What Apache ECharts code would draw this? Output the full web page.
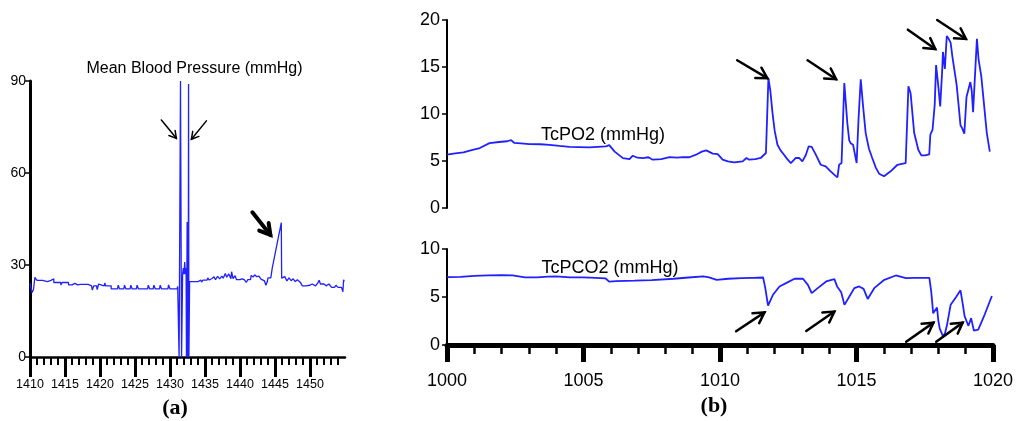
<!DOCTYPE html>
<html><head><meta charset="utf-8">
<script src="https://cdn.jsdelivr.net/npm/echarts@6/dist/echarts.min.js"></script>
<style>html,body{margin:0;padding:0;background:#fff}#c{width:1016px;height:421px}</style>
</head><body><div id="c"></div>
<script>
// ---------- DATA ----------
const mbpTitle = 'Mean Blood Pressure (mmHg)';
const po2Title = 'TcPO2 (mmHg)';
const pco2Title = 'TcPCO2 (mmHg)';
const panelLabels = ['(a)', '(b)'];
const mbpTicks = [1410, 1415, 1420, 1425, 1430, 1435, 1440, 1445, 1450];
const mbpYTicks = [0, 30, 60, 90];
const tcTicks = [1000, 1005, 1010, 1015, 1020];

const mbpTime = [1410.0,1410.2,1410.3,1410.5,1410.7,1410.9,1411.0,1411.8,1411.8,1412.5,1412.5,1413.0,1413.0,1413.4,1413.4,1414.4,1414.4,1414.6,1414.6,1415.5,1415.5,1415.7,1416.0,1416.4,1416.8,1417.2,1418.3,1418.3,1418.8,1418.9,1419.1,1419.5,1419.6,1419.8,1420.0,1420.6,1420.7,1420.8,1421.6,1421.6,1422.5,1422.6,1422.8,1423.4,1423.5,1423.7,1424.3,1424.4,1424.6,1425.2,1425.3,1425.5,1426.8,1426.9,1427.1,1427.6,1427.7,1427.9,1428.5,1428.6,1428.8,1429.7,1429.8,1430.0,1431.0,1431.1,1431.2,
 1431.3,1431.45,1431.5,1431.6,1431.65,1431.75,1431.8,1431.9,1432.0,1432.1,1432.2,1432.3,1432.35,1432.45,1432.5,1432.55,1432.6,1432.65,1432.7,1432.75,1432.8,
 1433.2,1433.3,1433.5,1434.0,1434.0,1434.4,1434.5,1434.7,1435.3,1435.4,1435.6,1436.0,1436.3,1436.5,1436.8,1437.1,1437.4,1437.6,1437.9,1438.1,1438.4,1438.7,1438.8,1439.0,1439.3,1439.5,1440.0,1440.3,1440.6,1440.9,1441.1,1441.5,1441.6,1441.9,1442.1,1442.4,1442.7,1443.0,1443.2,1443.5,1443.7,1443.9,1444.0,1444.4,1444.5,1444.6,1445.9,1445.95,1446.2,1446.4,1446.7,1447.0,1447.3,1447.6,1447.9,1448.2,1448.6,1448.9,1449.4,1449.5,1450.0,1450.3,1450.8,1451.1,1451.3,1451.5,1452.0,1452.3,1452.7,1453.1,1453.5,1453.7,1454.0,1454.5,1454.7,1454.8,1454.9];
const mbpValue = [24,24,21,22,26,26,25,25,24.6,24.6,25,25,25.5,25.5,24.3,24.3,23.5,23.5,24.3,24.3,23.5,24,23.5,24,23.5,23.7,23.7,23.2,23.2,21.8,23.2,23.2,22,23.8,23.2,23.2,24.2,23.2,23.2,22.2,22.2,23.4,22.2,22.2,23.4,22.2,22.2,23.4,22.2,22.2,23.4,22.2,22.2,23.4,22.2,22.2,23.4,22.2,22.2,23.4,22.2,22.2,23.5,22.2,22.2,23,23,
 0,0,90,90,0,0,27,29,27,31,27,29,0,44,0,44,0,89,0,0,24.6,
 24.6,24,24.6,24.6,25.1,25.1,24.4,25.1,25.1,25.8,25.1,25.6,26.2,25.2,26.3,25.5,26.4,25.7,27.2,26,27.1,25.5,27.8,25.6,26.5,25.2,25.2,25.5,25.2,24.3,25.2,25.2,26.6,26.1,26.8,26.2,26.4,25.4,24.8,24.8,23.4,24.6,25.8,25.8,25.2,28.9,43.8,25.7,25.2,26.2,24.8,25.8,24.9,25.5,24.6,25.2,24.4,23.2,23.2,23.8,23.4,23.8,23.2,24.1,25.0,23.8,23.8,23.2,23.8,22.7,22.7,23.4,22.7,22.7,21.3,25.2,24.6];

const po2Time = [1000.0,1000.3,1000.6,1000.9,1001.2,1001.55,1001.9,1002.2,1002.34,1002.46,1002.7,1003.0,1003.4,1003.74,1004.1,1004.47,1004.8,1005.2,1005.5,1005.8,1005.92,1006.12,1006.42,1006.66,1006.78,1006.95,1007.15,1007.35,1007.51,1007.82,1008.12,1008.4,1008.61,1008.85,1009.09,1009.3,1009.46,1009.7,1009.88,1010.06,1010.25,1010.48,1010.79,1010.93,1011.03,1011.25,1011.45,1011.64,1011.73,1011.8,1011.88,1011.96,1012.06,1012.18,1012.3,1012.42,1012.55,1012.73,1012.85,1012.97,1013.1,1013.2,1013.31,1013.46,1013.64,1013.82,1014.0,1014.15,1014.25,1014.31,1014.4,1014.5,1014.56,1014.61,1014.68,1014.73,1014.82,1014.95,1015.02,1015.1,1015.18,1015.28,1015.4,1015.52,1015.65,1015.77,1015.95,1016.19,1016.44,1016.6,1016.74,1016.84,1016.92,1017.05,1017.2,1017.31,1017.45,1017.6,1017.64,1017.72,1017.8,1017.85,1017.93,1018.0,1018.07,1018.1,1018.17,1018.24,1018.31,1018.38,1018.45,1018.6,1018.67,1018.74,1018.8,1018.88,1018.96,1019.03,1019.1,1019.15,1019.2,1019.34,1019.4,1019.5,1019.6,1019.7,1019.81];
const po2Value = [5.67,5.8,5.92,6.15,6.38,6.9,7.02,7.1,7.22,6.92,6.88,6.8,6.78,6.72,6.6,6.5,6.48,6.45,6.5,6.55,6.68,6.0,5.31,5.21,5.56,5.35,5.31,5.4,5.14,5.21,5.42,5.35,5.42,5.4,5.67,6.0,6.13,5.78,5.74,5.14,4.95,4.86,4.96,5.32,5.14,5.2,5.32,5.85,13.8,12.5,10.1,8.2,6.73,6.1,5.67,5.2,4.78,5.32,5.32,4.96,5.67,6.56,6.5,5.67,4.6,4.43,3.9,3.5,3.26,4.6,4.78,13.3,11.0,9.04,7.2,6.9,6.73,4.78,9.5,13.7,11.0,7.97,6.3,5.32,4.3,3.65,3.37,3.9,4.6,4.7,4.78,12.94,12.2,8.0,6.2,5.6,5.6,5.7,7.8,8.3,11.0,15.2,13.0,10.8,14.5,16.6,14.8,18.3,18.0,17.6,16.0,13.1,11.0,8.8,8.5,7.9,11.8,11.9,13.4,12.5,10.2,18.0,15.8,14.0,11.0,8.0,6.0];

const pco2Time = [1000.0,1000.5,1001.0,1001.5,1002.0,1002.4,1002.86,1003.3,1003.7,1004.0,1004.5,1005.0,1005.44,1005.8,1005.94,1006.2,1006.87,1007.5,1008.3,1008.85,1009.39,1009.6,1009.88,1010.3,1010.79,1011.2,1011.58,1011.66,1011.76,1011.94,1012.18,1012.49,1012.73,1013.04,1013.22,1013.36,1013.58,1013.89,1014.19,1014.29,1014.44,1014.56,1014.74,1014.92,1015.1,1015.26,1015.41,1015.65,1016.02,1016.44,1016.81,1017.1,1017.45,1017.67,1017.74,1017.81,1017.88,1017.95,1018.0,1018.05,1018.17,1018.24,1018.31,1018.45,1018.65,1018.81,1018.88,1018.96,1019.03,1019.1,1019.15,1019.2,1019.3,1019.46,1019.7,1019.96];
const pco2Value = [7.07,7.1,7.2,7.25,7.28,7.25,7.05,7.05,7.12,7.15,7.05,7.05,7.0,6.95,6.6,6.65,6.7,6.75,6.9,7.03,7.14,7.05,6.79,6.9,6.97,7.0,7.03,5.92,4.11,5.23,6.1,6.55,6.9,6.9,6.27,5.4,5.92,6.62,6.86,6.1,5.5,4.18,5.05,5.92,6.1,5.85,4.8,5.92,6.79,7.24,6.97,7.0,7.0,7.0,5.5,3.3,3.5,3.9,2.5,1.7,0.9,1.2,2.0,4.2,5.0,5.7,4.5,3.0,2.5,2.0,2.4,2.8,1.5,1.6,3.2,5.1];

// annotation arrows: [tailX, tailY, headX, headY] in data units
const mbpThinArrows = [[1428.77, 77.3, 1430.91, 71.3], [1435.2, 77.0, 1433.06, 71.0]];
const mbpBoldArrows = [[1441.77, 47.2, 1444.34, 39.8]];
const po2Arrows = [[1010.59, 15.72, 1011.69, 13.81], [1013.16, 15.72, 1014.2, 13.7], [1016.82, 18.97, 1017.82, 16.91], [1017.89, 20.0, 1018.94, 17.98]];
const pco2Arrows = [[1010.59, 1.43, 1011.63, 3.40], [1013.16, 1.46, 1014.19, 3.48], [1016.82, 0.34, 1017.82, 2.33], [1017.92, 0.34, 1018.89, 2.33]];

// ---------- CHART ----------
const zip = (a, b) => a.map((x, i) => [x, b[i]]);
const SANS = 'Liberation Sans, Arial, Helvetica, sans-serif';
const SERIF = 'Liberation Serif, Times New Roman, serif';
const BLUE = '#2121ff';
const plain = v => String(v);
const chart = echarts.init(document.getElementById('c'), null, {renderer: 'canvas'});

const yCommon = (min, max, interval, lw, fs, margin) => ({
  type: 'value', min, max, interval,
  axisLine: {show: true, onZero: false, lineStyle: {color: '#000', width: lw}},
  axisTick: {show: true, length: 5, lineStyle: {color: '#000', width: 1.5}},
  axisLabel: {color: '#000', fontSize: fs, fontFamily: SANS, margin, formatter: plain},
  splitLine: {show: false}
});

chart.setOption({
  animation: false,
  backgroundColor: '#fff',
  grid: [
    {left: 30, top: 81, width: 315, height: 276},
    {left: 447, top: 20, width: 548, height: 188},
    {left: 447, top: 249, width: 548, height: 96}
  ],
  xAxis: [
    {gridIndex: 0, type: 'value', min: 1410, max: 1455, interval: 5,
     axisLine: {show: true, onZero: false, lineStyle: {color: '#000', width: 2.5}},
     axisTick: {show: true, length: 20, customValues: mbpTicks, lineStyle: {color: '#000', width: 3}},
     minorTick: {show: true, splitNumber: 5, length: 8, lineStyle: {color: '#000', width: 2}},
     axisLabel: {customValues: mbpTicks, color: '#000', fontSize: 12.5, fontFamily: SANS, margin: 21, formatter: plain},
     splitLine: {show: false}},
    {gridIndex: 1, type: 'value', min: 1000, max: 1020, show: false},
    {gridIndex: 2, type: 'value', min: 1000, max: 1020, interval: 5,
     axisLine: {show: true, onZero: false, lineStyle: {color: '#000', width: 5}},
     axisTick: {show: true, length: 17, customValues: tcTicks, lineStyle: {color: '#000', width: 5}},
     minorTick: {show: true, splitNumber: 5, length: 9, lineStyle: {color: '#000', width: 2.5}},
     axisLabel: {customValues: tcTicks, color: '#000', fontSize: 18, fontFamily: SANS, margin: 27, formatter: plain},
     splitLine: {show: false}}
  ],
  yAxis: [
    Object.assign(yCommon(0, 90, 30, 3, 14, 4), {gridIndex: 0}),
    Object.assign(yCommon(0, 20, 5, 2, 18, 7), {gridIndex: 1}),
    Object.assign(yCommon(0, 10, 5, 2, 18, 7), {gridIndex: 2})
  ],
  series: [
    {type: 'line', xAxisIndex: 0, yAxisIndex: 0, data: zip(mbpTime, mbpValue), showSymbol: false,
     lineStyle: {color: BLUE, width: 1.3}, clip: false},
    {type: 'line', xAxisIndex: 1, yAxisIndex: 1, data: zip(po2Time, po2Value), showSymbol: false,
     lineStyle: {color: BLUE, width: 1.8}},
    {type: 'line', xAxisIndex: 2, yAxisIndex: 2, data: zip(pco2Time, pco2Value), showSymbol: false,
     lineStyle: {color: BLUE, width: 1.8}}
  ]
});

function arrow(gridIndex, a, lw, headLen) {
  const p0 = chart.convertToPixel({gridIndex}, [a[0], a[1]]);
  const p1 = chart.convertToPixel({gridIndex}, [a[2], a[3]]);
  let dx = p0[0] - p1[0], dy = p0[1] - p1[1];
  const L = Math.hypot(dx, dy); dx /= L; dy /= L;
  const ang = 30 * Math.PI / 180;
  const r = (c, s) => [p1[0] + headLen * (dx * c - dy * s), p1[1] + headLen * (dx * s + dy * c)];
  const h1 = r(Math.cos(ang), Math.sin(ang)), h2 = r(Math.cos(ang), -Math.sin(ang));
  const st = {stroke: '#000', lineWidth: lw, fill: null, lineCap: 'round', lineJoin: 'miter'};
  return [
    {type: 'polyline', shape: {points: [p0, p1]}, style: st, z: 50},
    {type: 'polyline', shape: {points: [h1, p1, h2]}, style: st, z: 50}
  ];
}

const gfx = [];
mbpThinArrows.forEach(a => gfx.push(...arrow(0, a, 1.5, 8)));
mbpBoldArrows.forEach(a => gfx.push(...arrow(0, a, 4, 12)));
po2Arrows.forEach(a => gfx.push(...arrow(1, a, 2.5, 12)));
pco2Arrows.forEach(a => gfx.push(...arrow(2, a, 2.5, 12)));

const txt = (x, y, text, font) => ({
  type: 'text', x, y, z: 60,
  style: {text, fill: '#000', font, textAlign: 'center', textVerticalAlign: 'middle'}
});
gfx.push(txt(194.5, 69, mbpTitle, '16px ' + SANS));
gfx.push(txt(603, 135, po2Title, '18px ' + SANS));
gfx.push(txt(610, 268, pco2Title, '18px ' + SANS));
gfx.push(txt(175, 408, panelLabels[0], 'bold 22px ' + SERIF));
gfx.push(txt(714, 406, panelLabels[1], 'bold 22px ' + SERIF));

chart.setOption({graphic: gfx});
</script>
</body></html>
